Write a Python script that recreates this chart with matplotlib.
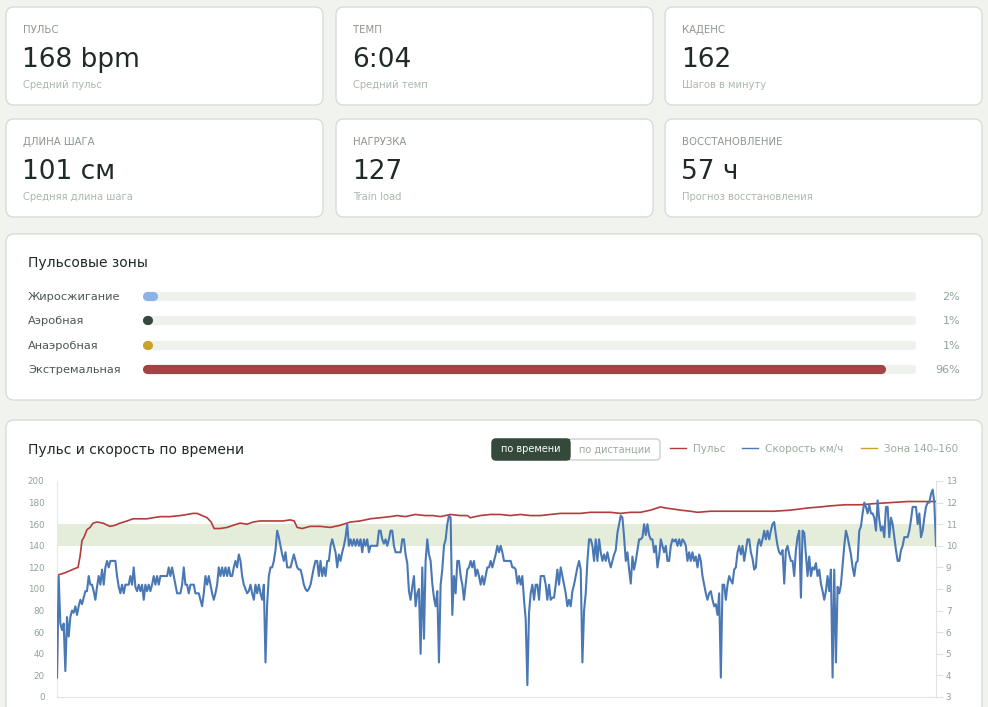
import matplotlib.pyplot as plt
import numpy as np
from matplotlib.patches import FancyBboxPatch, Rectangle

W, H = 988, 707

# summary cards
stat_labels = ['ПУЛЬС', 'ТЕМП', 'КАДЕНС', 'ДЛИНА ШАГА', 'НАГРУЗКА', 'ВОССТАНОВЛЕНИЕ']
stat_values = ['168 bpm', '6:04', '162', '101 см', '127', '57 ч']
stat_notes = ['Средний пульс', 'Средний темп', 'Шагов в минуту',
              'Средняя длина шага', 'Train load', 'Прогноз восстановления']

# heart rate zones
zone_names = ['Жиросжигание', 'Аэробная', 'Анаэробная', 'Экстремальная']
zone_pct = [2, 1, 1, 96]
zone_colors = ['#8ab4e8', '#34493a', '#c9a227', '#a34444']

# heart rate (time in s, bpm)
hr_t = [0, 4, 32, 52, 72, 84, 92, 100, 108, 120, 132, 144, 160, 184, 212, 232, 252, 280,
        304, 332, 360, 384, 412, 452, 492, 520, 544, 560, 580, 600, 616, 628, 652, 680,
        704, 732, 760, 784, 812, 840, 872, 904, 932, 948, 960, 980, 1012, 1052, 1092, 1132,
        1172, 1212, 1252, 1292, 1332, 1360, 1392, 1432, 1472, 1504, 1532, 1572, 1612, 1640,
        1652, 1692, 1732, 1772, 1812, 1852, 1892, 1932, 1972, 2012, 2052, 2092, 2132, 2172,
        2212, 2252, 2292, 2332, 2372, 2412, 2432, 2464, 2492, 2532, 2560, 2612, 2652, 2692,
        2732, 2772, 2812, 2864, 2932, 3000, 3052, 3092, 3152, 3212, 3264, 3332, 3400, 3452,
        3512]
hr_bpm = [0, 113, 115, 117, 119, 120, 130, 145, 148, 155, 157, 161, 162, 161, 158, 159, 161, 163,
          165, 165, 165, 166, 167, 167, 168, 169, 170, 170, 168, 166, 162, 156, 156, 157,
          159, 161, 160, 162, 163, 163, 163, 163, 164, 163, 157, 156, 158, 158, 157, 159,
          162, 163, 165, 166, 167, 168, 167, 169, 168, 168, 167, 169, 168, 168,
          166, 168, 169, 169, 168, 169, 168, 168, 169, 170, 170, 170, 171, 171,
          171, 170, 171, 171, 173, 176, 175, 174, 173, 172, 171, 172, 172, 172,
          172, 172, 172, 172, 173, 175, 176, 177, 178, 178, 179, 180, 181, 181,
          181]

# speed, km/h, one sample about every 6.7 s
speed_step_s = 20 / 3
speed_kmh = [
    3.9, 8.6, 6.4, 6.1, 6.4, 4.2, 6.7, 5.8, 6.7, 7.0,
    6.9, 7.2, 6.8, 7.2, 7.5, 7.3, 7.6, 7.9, 7.9, 8.6,
    8.2, 8.2, 7.9, 7.5, 8.1, 8.6, 8.2, 8.9, 8.2, 9.0,
    9.3, 9.0, 9.3, 9.3, 9.3, 9.3, 8.6, 8.1, 7.8, 8.2,
    7.8, 8.2, 8.2, 8.2, 8.6, 8.2, 9.0, 8.1, 7.9, 8.2,
    7.9, 8.2, 7.5, 8.2, 7.9, 8.2, 7.9, 8.2, 8.6, 8.2,
    8.6, 8.2, 8.6, 8.6, 8.6, 8.6, 8.6, 9.0, 8.6, 9.0,
    8.6, 8.2, 7.8, 7.8, 7.8, 8.2, 9.0, 8.2, 8.2, 7.8,
    8.2, 8.2, 8.2, 7.8, 7.8, 7.8, 7.5, 7.2, 7.8, 8.6,
    8.2, 8.6, 8.2, 7.8, 7.5, 7.8, 8.2, 9.0, 8.6, 9.0,
    8.6, 9.0, 8.6, 9.0, 8.6, 8.6, 9.0, 9.3, 9.0, 9.6,
    9.3, 8.6, 8.2, 8.0, 7.8, 7.9, 8.2, 7.8, 7.5, 8.2,
    7.8, 8.2, 7.8, 7.5, 8.2, 4.6, 7.3, 8.6, 9.0, 9.0,
    9.3, 9.8, 10.7, 10.4, 10.0, 9.6, 9.3, 9.7, 9.0, 9.0,
    9.0, 9.3, 9.6, 9.3, 9.0, 8.9, 8.9, 8.6, 8.2, 8.0,
    7.9, 8.0, 8.2, 8.6, 9.0, 9.3, 9.3, 8.6,
    9.3, 8.6, 9.0, 8.6, 9.3, 9.3, 10.0, 10.3, 10.0, 9.7,
    9.0, 9.6, 9.3, 9.7, 10.0, 10.4, 11.0, 10.0, 10.3, 10.0,
    10.3, 10.0, 10.3, 10.0, 10.3, 9.7, 10.3, 10.0, 10.3, 9.7,
    10.0, 10.0, 10.0, 10.0, 10.0, 10.7, 10.7, 10.3, 10.1, 10.3,
    10.0, 10.3, 10.7, 10.7, 10.0, 9.7, 9.7, 9.7, 9.7, 10.3,
    10.3, 9.6, 9.2, 7.9, 7.5, 8.1, 8.6, 7.2, 7.8, 8.0,
    5.0, 9.0, 5.7, 9.3, 10.3, 9.6, 9.3, 8.25, 7.6, 7.2,
    7.9, 4.6, 8.2, 8.9, 10.0, 10.3, 11.0, 11.4, 11.3, 6.8,
    8.6, 7.8, 9.3, 9.3, 8.6, 8.2, 7.5, 8.2, 8.9, 9.0,
    9.3, 9.0, 9.3, 8.6, 8.9, 8.6, 8.2, 8.6, 8.2, 8.6,
    9.0, 9.0, 9.3, 9.0, 9.3, 9.6, 10.0, 9.7, 10.0, 9.7,
    9.3, 9.3, 9.3, 9.3, 9.3, 9.0, 9.0, 8.9, 8.25, 8.6,
    8.2, 8.6, 7.5, 6.6, 3.55, 6.9, 7.8, 8.2, 7.5, 8.2,
    8.2, 7.5, 8.6, 8.6, 8.6, 8.2, 7.5, 8.2, 7.5, 7.6,
    7.6, 8.2, 8.9, 8.2, 9.0, 8.6, 8.2, 7.8, 7.2, 7.5,
    7.2, 7.9, 8.2, 8.6, 9.0, 9.3, 8.9, 4.6, 7.0, 7.8,
    9.3, 10.3, 10.3, 10.0, 9.3, 10.3, 9.3, 10.3, 9.7, 9.3,
    9.6, 9.3, 9.7, 9.3, 9.0, 9.3, 9.6, 9.8, 10.6, 11.0,
    11.4, 11.3, 10.4, 9.3, 9.7, 8.9, 8.25, 9.5, 8.9, 9.3,
    9.8, 10.3,
    10.3, 10.4, 11.0, 10.5, 11.0, 10.5, 10.3, 10.3, 9.7, 10.0,
    9.0, 9.5, 10.3, 10.0, 9.7, 10.0, 9.3, 9.3, 10.0, 10.3,
    10.2, 10.3, 10.0, 10.3, 10.0, 10.3, 10.2, 10.0, 9.3, 9.7,
    9.3, 9.7, 9.3, 9.5, 9.0, 9.6, 9.3, 8.6, 8.2, 7.8,
    7.5, 7.8, 7.9, 7.5, 7.2, 7.3, 6.8, 7.8, 3.9, 8.2,
    8.2, 7.5, 8.2, 8.6, 8.4, 8.25, 8.9, 9.0, 9.7, 10.0,
    9.6, 10.0, 9.3, 9.8, 10.3, 10.3, 9.7, 9.4, 8.9, 9.0,
    10.0, 10.3, 10.0, 10.3, 10.7, 10.3, 10.7, 10.3, 10.7, 11.0,
    11.1, 10.5, 10.0, 9.7, 9.6, 9.8, 8.25, 9.8, 10.0, 9.6,
    9.3, 9.3, 8.6, 9.8, 10.4, 10.7, 7.6, 10.7, 10.6, 9.6,
    8.6, 9.5, 8.6, 9.0, 8.9, 9.2, 8.6, 8.9, 8.25, 7.9,
    7.5, 7.9, 8.6, 7.9, 8.9, 3.9, 8.9, 4.6, 8.1, 7.8,
    8.2, 9.1, 10.0, 10.7, 10.4, 10.0, 9.6, 9.0, 8.6, 9.2,
    9.3, 10.7, 10.9, 11.5, 12.0, 11.8, 11.5, 11.9, 11.5, 11.5,
    11.3, 10.7, 12.1, 11.2, 10.7, 10.9, 10.4, 11.8, 11.8, 10.4,
    11.3, 11.0, 10.4, 9.8, 9.3, 9.3, 9.8, 10.0, 10.4, 10.4,
    10.4, 10.7, 11.2, 11.8, 11.8, 11.8, 11.0, 11.5, 10.4, 10.7,
    11.3, 11.8, 12.0, 12.0, 12.4, 12.6, 12.0, 10.0,
]
zone_lo, zone_hi = 140, 160

BG = '#f1f3ef'
BORDER = '#d6ddd7'
DARK = '#1f2b24'
MUTED = '#8a968d'
LIGHT = '#a9b9ae'


def px(x, y, w, h):
    return [x / W, 1 - (y + h) / H, w / W, h / H]


fig = plt.figure(figsize=(W / 100, H / 100), dpi=100, facecolor=BG)
bg = fig.add_axes([0, 0, 1, 1])
bg.set_xlim(0, W)
bg.set_ylim(H, 0)
bg.axis('off')


def card(x, y, w, h):
    bg.add_patch(FancyBboxPatch((x, y), w, h, boxstyle='round,pad=0,rounding_size=8',
                                fc='white', ec=BORDER, lw=1))


# stat cards
for i in range(6):
    cx = [6, 336, 665][i % 3]
    cy = [7, 119][i // 3]
    card(cx, cy, 317, 98)
    bg.text(cx + 17, cy + 26, stat_labels[i], fontsize=7.3, color=MUTED, va='baseline')
    bg.text(cx + 16, cy + 60, stat_values[i], fontsize=19, color=DARK, va='baseline')
    bg.text(cx + 17, cy + 81, stat_notes[i], fontsize=7.2, color=LIGHT, va='baseline')

# zones card
card(6, 234, 976, 166)
bg.text(28, 267, 'Пульсовые зоны', fontsize=10, color=DARK, va='baseline')

zx = fig.add_axes(px(142, 284, 774, 97))
zx.set_xlim(0, 100)
zx.set_ylim(3.5, -0.5)
zx.axis('off')
r = 4.5 / 774 * 100
for i, (name, pct, col) in enumerate(zip(zone_names, zone_pct, zone_colors)):
    zx.plot([r, 100 - r], [i, i], color='#eff1ec', lw=6.6, solid_capstyle='round')
    zx.plot([r, max(pct - r, r + 0.2)], [i, i], color=col, lw=6.6, solid_capstyle='round')
    yy = 296 + i * 24.4
    bg.text(28, yy + 4, name, fontsize=8.2, color='#4d5750', va='baseline')
    bg.text(960, yy + 4, f'{pct}%', fontsize=8, color='#8fa597', va='baseline', ha='right')

# chart card
card(6, 420, 976, 320)
bg.text(28, 454, 'Пульс и скорость по времени', fontsize=10, color=DARK, va='baseline')

# toggle
bg.add_patch(FancyBboxPatch((492, 439), 168, 21, boxstyle='round,pad=0,rounding_size=4',
                            fc='white', ec='#c9d3cb', lw=1))
bg.add_patch(FancyBboxPatch((492, 439), 78, 21, boxstyle='round,pad=0,rounding_size=4',
                            fc='#34493a', ec='#34493a', lw=1))
bg.add_patch(Rectangle((560, 439), 10, 21, fc='#34493a', ec='none'))
bg.text(531, 449.5, 'по времени', fontsize=7, color='white', ha='center', va='center')
bg.text(615, 449.5, 'по дистанции', fontsize=7, color='#9aa89d', ha='center', va='center')

# legend
for lx, col, txt in [(670, '#b23b3b', 'Пульс'), (742, '#4a78b5', 'Скорость км/ч'),
                     (861, '#c9a227', 'Зона 140–160')]:
    bg.plot([lx, lx + 16], [448, 448], color=col, lw=1)
    bg.text(lx + 23, 451.5, txt, fontsize=7.5, color='#9aaa9e', va='baseline')

# time series
ax = fig.add_axes(px(57, 481, 879, 216))
ax.set_facecolor('white')
t_end = (len(speed_kmh) - 1) * speed_step_s
ax.set_xlim(0, t_end)
ax.set_ylim(0, 200)
ax.axhspan(zone_lo, zone_hi, color='#e4edda', lw=0)
ax.plot(hr_t, hr_bpm, color='#b23b3b', lw=1.2)
ax.set_yticks(range(0, 201, 20))
ax.tick_params(axis='y', length=0, labelsize=6.3, labelcolor='#8fa396', pad=9)
ax.set_xticks([])
for s in ['top', 'right']:
    ax.spines[s].set_visible(False)
ax.spines['left'].set_color('#e6e9e6')
ax.spines['bottom'].set_color('#e0e4e0')

ax2 = ax.twinx()
ts = np.arange(len(speed_kmh)) * speed_step_s
ax2.plot(ts, speed_kmh, color='#4a78b5', lw=1.5)
ax2.set_ylim(3, 13)
ax2.set_yticks(range(3, 14))
ax2.tick_params(axis='y', length=5, color='#dde3de', labelsize=6.3, labelcolor='#8fa396', pad=2)
for s in ['top', 'left', 'bottom']:
    ax2.spines[s].set_visible(False)
ax2.spines['right'].set_color('#dde3de')

fig.savefig('out.png', dpi=100, facecolor=BG)
